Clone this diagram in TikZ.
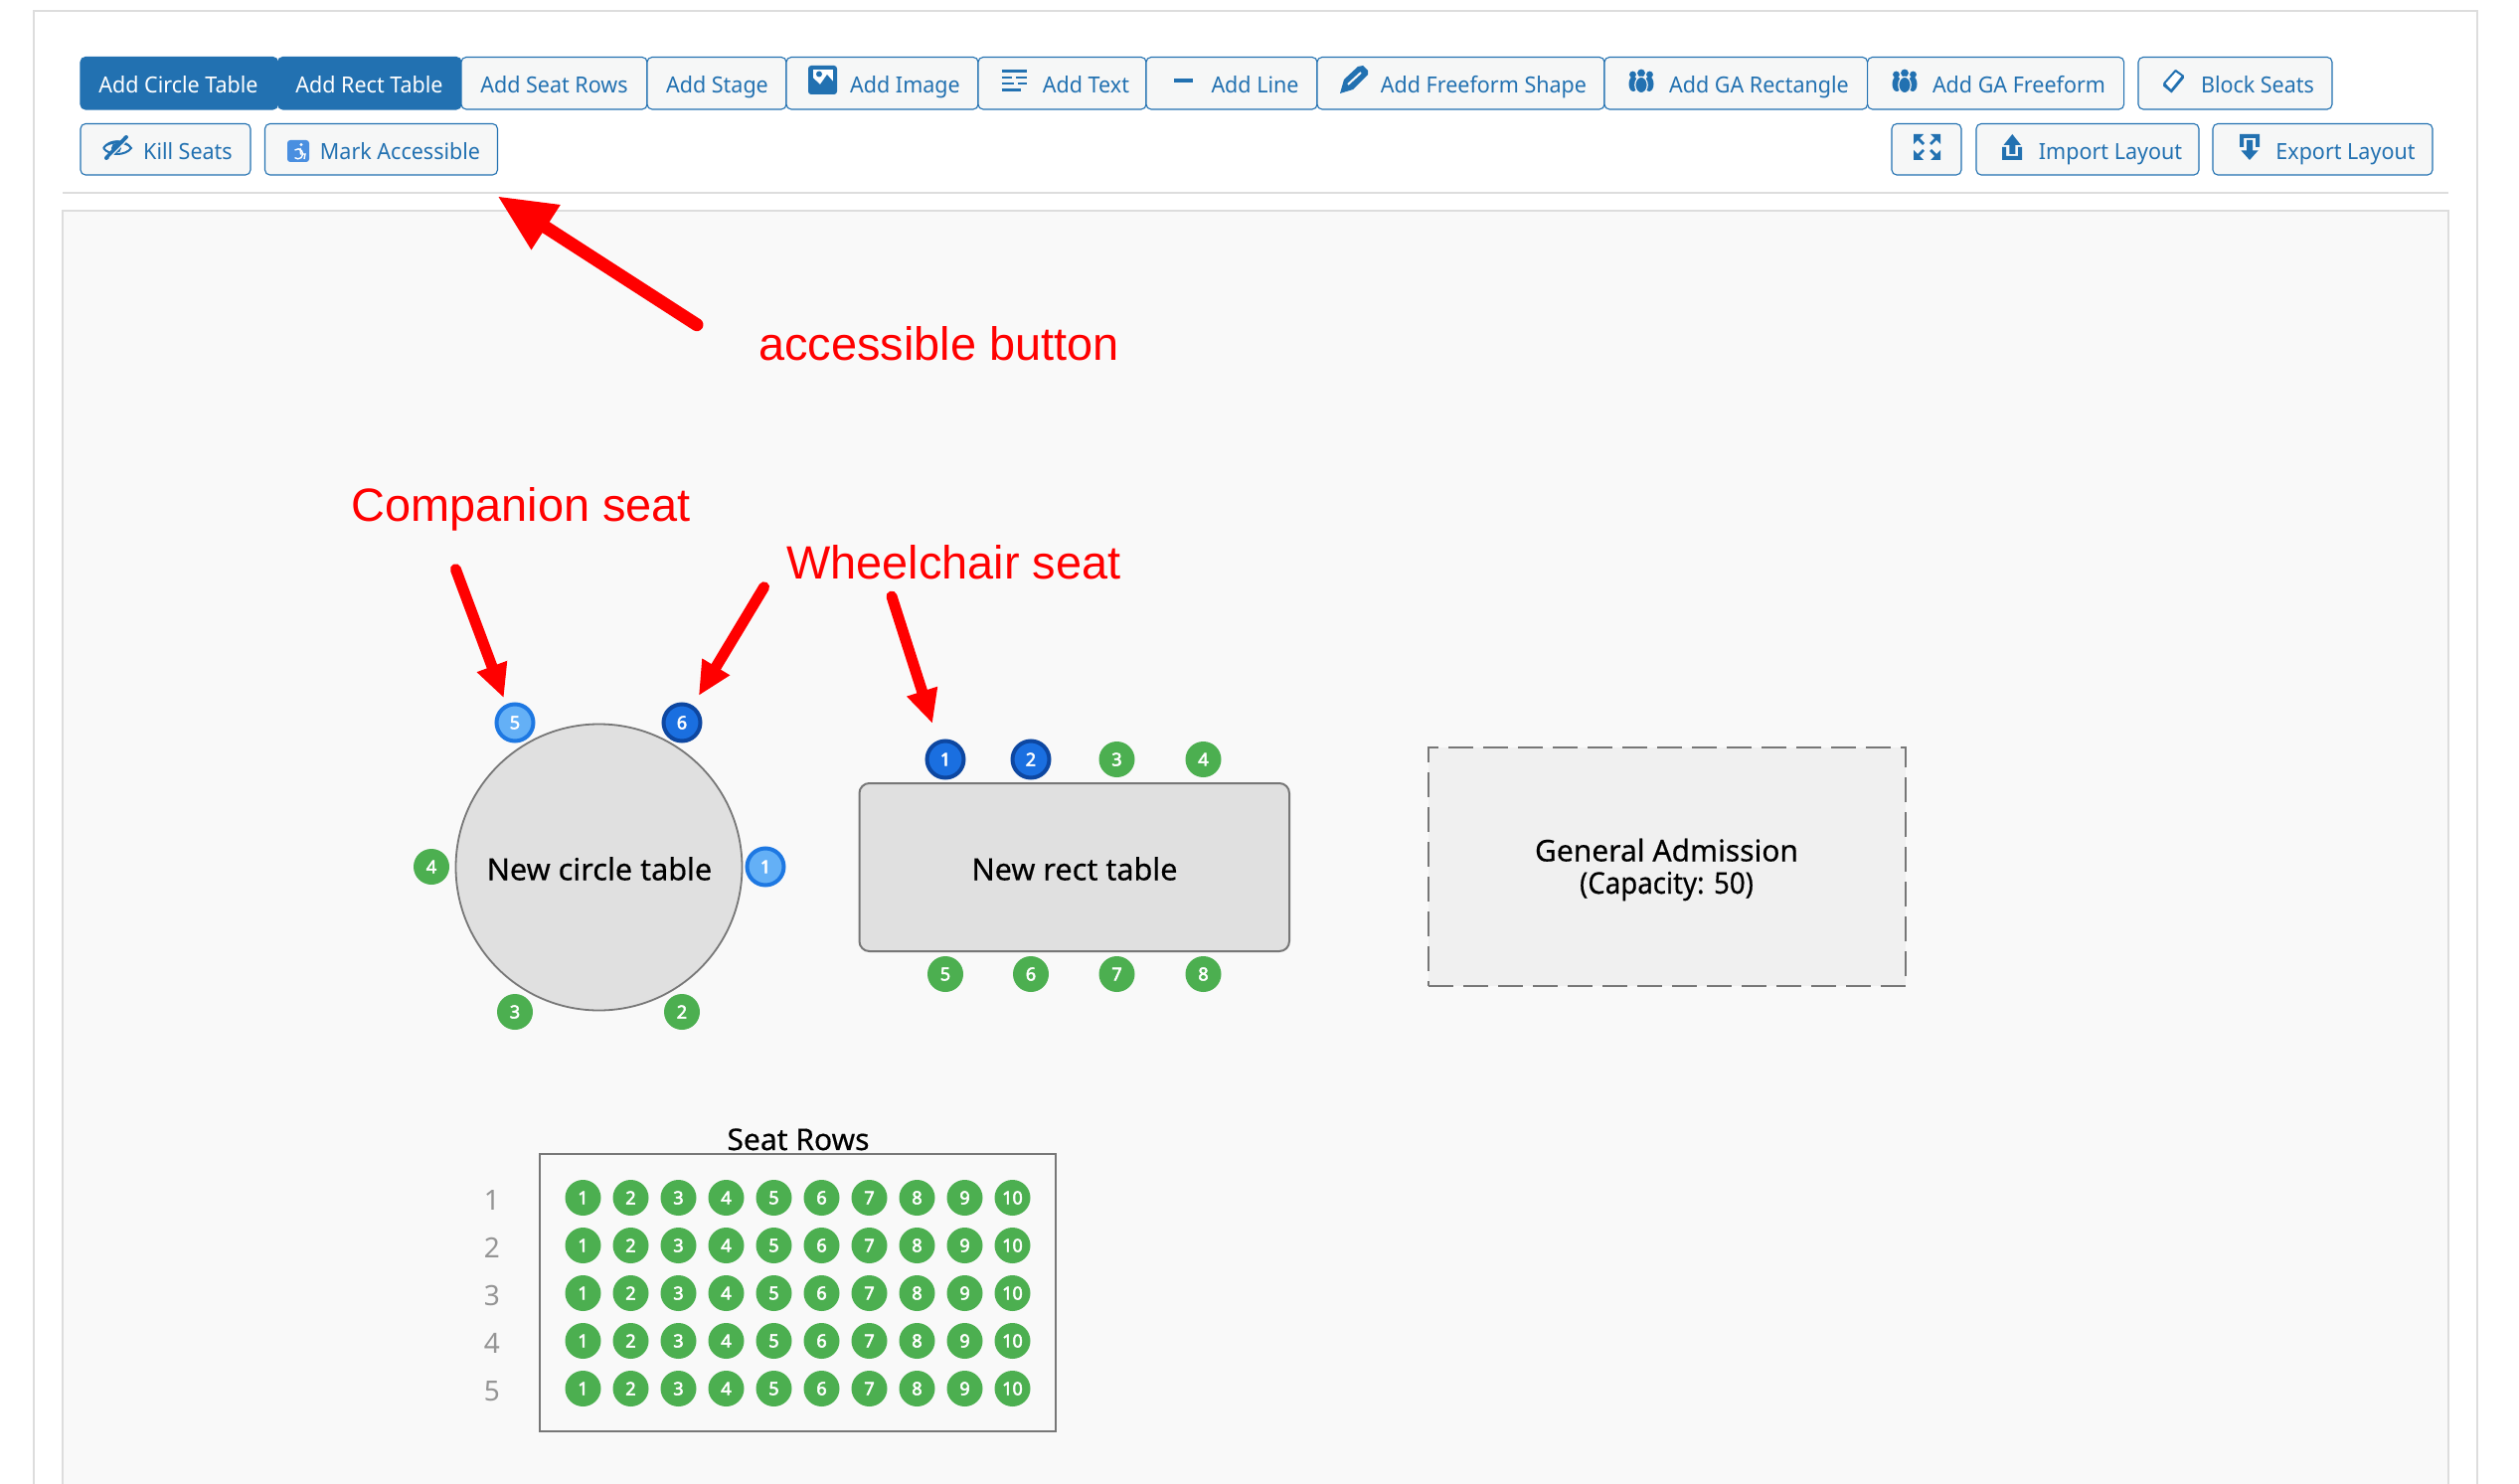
\documentclass[tikz,border=0pt]{standalone}
\usepackage{fontspec}
\usetikzlibrary{arrows.meta}
\setmainfont{Noto Sans}
\newfontfamily\arialfont{Liberation Sans}
\newfontfamily\uifont[FakeStretch=0.96]{Noto Sans}
\newfontfamily\seatfont[FakeBold=2.8]{Noto Sans}
\newfontfamily\tablefont[FakeBold=0.4]{Noto Sans}
\newfontfamily\capfont[FakeBold=0.4,FakeStretch=0.92]{Noto Sans}
\definecolor{btnblue}{HTML}{2271B1}
\definecolor{btnbg}{HTML}{F6F7F7}
\definecolor{panelline}{HTML}{DDDDDD}
\definecolor{canvasbg}{HTML}{F9F9F9}
\definecolor{seatgreen}{HTML}{4CAF50}
\definecolor{lightfill}{HTML}{64B0F6}
\definecolor{lightedge}{HTML}{1E78E2}
\definecolor{darkfill}{HTML}{1A6FE0}
\definecolor{darkedge}{HTML}{0D47A1}
\definecolor{tablefill}{HTML}{E0E0E0}
\definecolor{tableedge}{HTML}{777777}
\definecolor{gafill}{HTML}{F0F0F0}
\definecolor{rownum}{HTML}{959595}
\definecolor{accblue}{HTML}{4A8FE0}
\tikzset{
  btnoff/.style={draw=btnblue,fill=btnbg,line width=0.55pt,rounded corners=2.5pt,inner sep=0pt,outer sep=0pt},
  btnon/.style={draw=btnblue,fill=btnblue,line width=0.55pt,rounded corners=2.5pt,inner sep=0pt,outer sep=0pt},
  btntext/.style={text=btnblue,anchor=base,inner sep=0pt,font=\uifont\fontsize{11.2}{13}\selectfont},
  seatlabel/.style={circle,inner sep=0pt,minimum size=18pt,text=white,font=\seatfont\fontsize{9}{10}\selectfont},
  greenseat/.style={seatlabel,fill=seatgreen},
  lightseat/.style={seatlabel,fill=lightfill,draw=lightedge,line width=2pt,minimum size=18.5pt},
  darkseat/.style={seatlabel,fill=darkfill,draw=darkedge,line width=2pt,minimum size=18.5pt},
  tablelabel/.style={anchor=base,inner sep=0pt,text=black,font=\tablefont\fontsize{15.3}{18}\selectfont},
  redlabel/.style={anchor=base west,inner sep=0pt,text=red,font=\arialfont\fontsize{23.45}{28}\selectfont},
  bigarrow/.style={draw=red,line cap=round,line width=6.5pt,-{Triangle[length=29pt,width=25pt,fill=red]}},
  smallarrow/.style={draw=red,line cap=round,line width=5.5pt,-{Triangle[length=17pt,width=15pt,fill=red]}},
  ico/.style={fill=btnblue,draw=none},
  icoline/.style={draw=btnblue,line width=1.3pt}
}
\newcommand{\uibtn}[9]{%
  \pgfmathsetmacro\btnw{(#4-#3)*0.5}%
  \pgfmathsetmacro\btnh{(#6-#5)*0.5}%
  \node[#1,minimum width=\btnw pt,minimum height=\btnh pt] (#2) at ({(#3+#4)/2},{(#5+#6)/2}) {};%
  \node[btntext] (#2t) at (#7,#8) {#9};%
}
\newcommand{\gaicon}[1]{%
  \begin{scope}[shift={(#1,0)}]
    \fill[btnblue] (-8,84.5) ellipse (4.5 and 7.5);
    \fill[btnblue] (8,84.5) ellipse (4.5 and 7.5);
    \fill[btnblue] (-8.5,75) circle (3.4);
    \fill[btnblue] (8.5,75) circle (3.4);
    \fill[btnblue] (0,73.5) circle (3.9);
    \fill[btnblue,draw=btnbg,line width=0.6pt] (0,85.5) ellipse (6.2 and 8.2);
  \end{scope}%
}
\begin{document}
\begin{tikzpicture}[x=0.5pt,y=-0.5pt]
\useasboundingbox (0,0) rectangle (2534,1493);
\fill[white] (0,0) rectangle (2534,1493);
% panels
\draw[panelline,line width=1pt] (34,1493) -- (34,11.5) -- (2492,11.5) -- (2492,1493);
\draw[panelline,line width=0.8pt] (63,194) -- (2463,194);
\fill[canvasbg] (63,212) rectangle (2463,1493);
\draw[panelline,line width=0.8pt] (63,1493) -- (63,212) -- (2463,212) -- (2463,1493);
% buttons row 1
\uibtn{btnon}{bcircle}{81}{279.5}{57.5}{110}{179.5}{93.7}{\color{white}Add Circle Table}
\uibtn{btnon}{brect}{279.5}{464}{57.5}{110}{371.5}{93.7}{\color{white}Add Rect Table}
\uibtn{btnoff}{brows}{464}{651}{57.5}{110}{557.5}{93.7}{Add Seat Rows}
\uibtn{btnoff}{bstage}{651}{791}{57.5}{110}{721.5}{93.7}{Add Stage}
\uibtn{btnoff}{bimage}{791}{984}{57.5}{110}{910.5}{93.7}{Add Image}
\uibtn{btnoff}{btext}{984}{1153}{57.5}{110}{1092.5}{93.7}{Add Text}
\uibtn{btnoff}{bline}{1153}{1325}{57.5}{110}{1262.5}{93.7}{Add Line}
\uibtn{btnoff}{bfree}{1325}{1614}{57.5}{110}{1492.5}{93.7}{Add Freeform Shape}
\uibtn{btnoff}{bgarect}{1614}{1878.6}{57.5}{110}{1769.5}{93.7}{Add GA Rectangle}
\uibtn{btnoff}{bgafree}{1878.6}{2136.6}{57.5}{110}{2031}{93.7}{Add GA Freeform}
\uibtn{btnoff}{bblock}{2151}{2346}{57.5}{110}{2271}{93.7}{Block Seats}
% buttons row 2
\uibtn{btnoff}{bkill}{81}{252}{124.5}{176}{189}{160.7}{Kill Seats}
\uibtn{btnoff}{bmark}{266.5}{500.5}{124.5}{176}{402.5}{160.7}{Mark Accessible}
\uibtn{btnoff}{bimport}{1988}{2212}{124.5}{176}{2123}{160.7}{Import Layout}
\uibtn{btnoff}{bexport}{2226}{2447}{124.5}{176}{2359.5}{160.7}{Export Layout}
\node[btnoff,minimum width=35pt,minimum height=25.75pt] (bexpand) at (1938,150.25) {};
% image icon
\fill[ico,rounded corners=1.5pt] (813,66) rectangle (842,95);
\fill[white] (817.5,70) rectangle (838,91);
\fill[ico] (817.5,91) -- (817.5,78) -- (825,85) -- (832,75) -- (838,82) -- (838,91) -- cycle;
\fill[ico] (824,74.5) circle (3);
% text icon
\draw[icoline] (1007.5,71.5) -- (1033,71.5);
\draw[icoline] (1007.5,78) -- (1018,78) (1022,78) -- (1033,78);
\draw[icoline] (1007.5,84) -- (1020,84) (1024,84) -- (1033,84);
\draw[icoline] (1007.5,90.5) -- (1026.5,90.5);
% line icon
\fill[ico] (1181,79) rectangle (1200,83.5);
% pencil icon
\fill[ico] (1348,94) -- (1352,80) -- (1366,67) -- (1371,66) -- (1376,71) -- (1376,75) -- (1361,90) -- cycle;
\draw[btnbg,line width=1pt] (1356,85) -- (1369,73);
% GA icons
\gaicon{1651}
\gaicon{1916}
% eraser icon
\draw[btnblue,fill=white,line width=1pt,line join=round] (2188.5,71) -- (2196,76.5) -- (2184,91.5) -- (2177,84) -- cycle;
\fill[ico] (2176.5,84) -- (2184,91) -- (2193,80.5) -- (2196.8,76.8) -- (2197,78.5) -- (2184.5,93.5) -- (2176,86.5) -- cycle;
% eye slash icon
\draw[btnblue,line width=1pt] (104,149) .. controls (110,140) and (126,140) .. (132,149) .. controls (126,157) and (110,157) .. (104,149);
\fill[ico] (104,149) .. controls (110,139) and (126,139) .. (132,149) .. controls (124,143) and (112,143) .. (104,149);
\fill[ico] (117,149) circle (5);
\draw[btnblue,line width=2pt,line cap=round] (107,159) -- (127,138);
\draw[btnbg,line width=0.6pt] (110,159) -- (130,139);
% accessible icon
\fill[accblue,rounded corners=1.5pt] (289,141) rectangle (311,163);
\fill[white] (303,145.5) circle (1.6);
\draw[white,line width=0.7pt] (296.5,151) arc[start angle=-130,end angle=130,radius=5];
\draw[white,line width=0.7pt] (302,149) -- (302.5,155) -- (307,155) -- (306,160);
% expand icon
\foreach \px/\py/\sx/\sy/\nm in {1925/135/1/1/a,1952/135/-1/1/b,1925/161/1/-1/c,1952/161/-1/-1/d}{
  \fill[ico] (\px,\py) -- ++({10*\sx},0) -- ++({-10*\sx},{10*\sy}) -- cycle;
  \draw[btnblue,line width=1.4pt] ({\px+4*\sx},{\py+4*\sy}) -- ({\px+10*\sx},{\py+10*\sy});
}
% import icon
\fill[ico] (2014,148) -- (2018,148) -- (2018,157) -- (2030,157) -- (2030,148) -- (2034,148) -- (2034,161) -- (2014,161) -- cycle;
\fill[ico] (2024.3,135) -- (2033,146) -- (2027.3,146) -- (2027.3,155) -- (2021.3,155) -- (2021.3,146) -- (2015.5,146) -- cycle;
% export icon
\fill[ico] (2253,135) -- (2273,135) -- (2273,148) -- (2269,148) -- (2269,139) -- (2257,139) -- (2257,148) -- (2253,148) -- cycle;
\fill[ico] (2263,161) -- (2254.5,151.5) -- (2260,151.5) -- (2260,141) -- (2266,141) -- (2266,151.5) -- (2271.5,151.5) -- cycle;
% annotation coordinates and arrows
\coordinate (a1s) at (701,326.7);
\coordinate (a1e) at (500.4,197.3);
\coordinate (a2s) at (458.4,572.7);
\coordinate (a2e) at (506.8,702.3);
\coordinate (a3s) at (768.6,590.7);
\coordinate (a3e) at (702.8,700);
\coordinate (a4s) at (897,600);
\coordinate (a4e) at (938,728);
\draw[bigarrow] (a1s) -- (a1e);
\draw[smallarrow] (a2s) -- (a2e);
\draw[smallarrow] (a3s) -- (a3e);
\draw[smallarrow] (a4s) -- (a4e);
\node[redlabel] (lacc) at (763,362) {accessible button};
\node[redlabel] (lcomp) at (353,524) {Companion seat};
\node[redlabel] (lwheel) at (791,582.7) {Wheelchair seat};
% circle table
\node[circle,draw=tableedge,fill=tablefill,line width=0.9pt,minimum size=144pt,inner sep=0pt] (ctable) at (602.5,872.5) {};
\node[tablelabel] (ctext) at (603,885.5) {New circle table};
\node[lightseat] (c1) at (770,872) {1};
\node[greenseat] (c2) at (686,1018) {2};
\node[greenseat] (c3) at (518,1018) {3};
\node[greenseat] (c4) at (434,872) {4};
\node[lightseat] (c5) at (518,727) {5};
\node[darkseat] (c6) at (686,727) {6};
% rectangular table
\node[draw=tableedge,fill=tablefill,line width=1pt,rounded corners=5pt,minimum width=216.25pt,minimum height=84.5pt,inner sep=0pt] (rtable) at (1080.75,872.5) {};
\node[tablelabel] (rtext) at (1081,885.5) {New rect table};
\node[darkseat] (r1) at (951,764) {1};
\node[darkseat] (r2) at (1037,764) {2};
\node[greenseat] (r3) at (1123.5,764) {3};
\node[greenseat] (r4) at (1210.5,764) {4};
\node[greenseat] (r5) at (951,980) {5};
\node[greenseat] (r6) at (1037,980) {6};
\node[greenseat] (r7) at (1123.5,980) {7};
\node[greenseat] (r8) at (1210.5,980) {8};
% general admission
\node[draw=tableedge,fill=gafill,line width=1.2pt,dash pattern=on 12.5pt off 5pt,minimum width=240pt,minimum height=120pt,inner sep=0pt] (ga) at (1677,872) {};
\node[tablelabel,font=\tablefont\fontsize{15}{18}\selectfont] (gatext) at (1676.5,866.5) {General Admission};
\node[tablelabel,font=\capfont\fontsize{15}{18}\selectfont] (gacap) at (1676.5,899) {(Capacity: 50)};
% seat rows
\node[draw=tableedge,fill=canvasbg,line width=1.3pt,minimum width=259.5pt,minimum height=139.5pt,inner sep=0pt] (rowsbox) at (802.5,1300.5) {};
\node[tablelabel,font=\tablefont\fontsize{15}{18}\selectfont] (rowstitle) at (803,1157) {Seat Rows};
\foreach \r in {1,...,5}{
  \pgfmathsetmacro\rowy{1205+48*(\r-1)}
  \pgfmathsetmacro\rowb{1217+48*(\r-1)}
  \node[anchor=base,inner sep=0pt,text=rownum,font=\fontsize{14}{16}\selectfont] (rl\r) at (495,\rowb) {\r};
  \foreach \c in {1,...,10}{
    \pgfmathsetmacro\colx{586.5+48*(\c-1)}
    \node[greenseat] (s\r-\c) at (\colx,\rowy) {\c};
  }
}
\end{tikzpicture}
\end{document}
